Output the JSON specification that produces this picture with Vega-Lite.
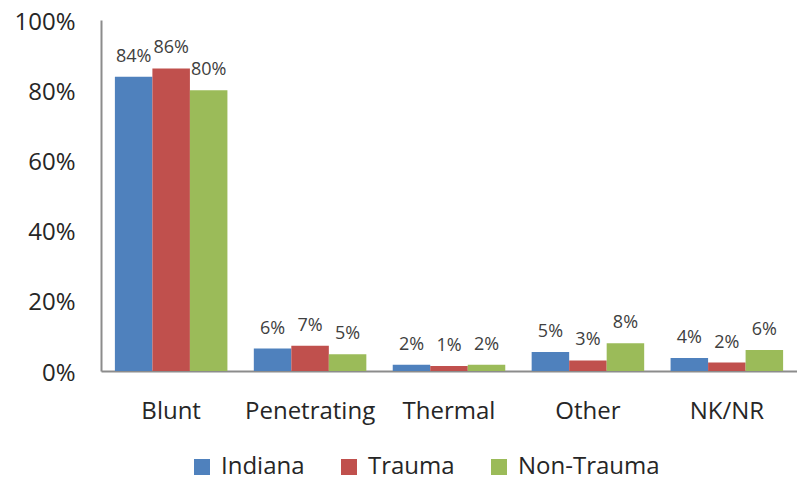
{
  "$schema": "https://vega.github.io/schema/vega-lite/v6.json",
  "width": 696,
  "height": 351,
  "autosize": {"type": "none"},
  "padding": {"left": 101, "top": 20, "right": 0, "bottom": 114},
  "background": "white",
  "config": {
    "view": {"stroke": null},
    "font": "Open Sans",
    "axis": {"grid": false, "ticks": false, "domainColor": "#8c8c8c", "domainWidth": 2, "labelColor": "#262626", "labelFont": "Open Sans", "labelFontSize": 24, "title": null}
  },
  "data": {
    "values": [
      {"cause": "Blunt", "group": "Indiana", "value": 0.838},
      {"cause": "Blunt", "group": "Trauma", "value": 0.862},
      {"cause": "Blunt", "group": "Non-Trauma", "value": 0.80},
      {"cause": "Penetrating", "group": "Indiana", "value": 0.064},
      {"cause": "Penetrating", "group": "Trauma", "value": 0.072},
      {"cause": "Penetrating", "group": "Non-Trauma", "value": 0.048},
      {"cause": "Thermal", "group": "Indiana", "value": 0.018},
      {"cause": "Thermal", "group": "Trauma", "value": 0.014},
      {"cause": "Thermal", "group": "Non-Trauma", "value": 0.018},
      {"cause": "Other", "group": "Indiana", "value": 0.054},
      {"cause": "Other", "group": "Trauma", "value": 0.03},
      {"cause": "Other", "group": "Non-Trauma", "value": 0.079},
      {"cause": "NK/NR", "group": "Indiana", "value": 0.037},
      {"cause": "NK/NR", "group": "Trauma", "value": 0.024},
      {"cause": "NK/NR", "group": "Non-Trauma", "value": 0.06}
    ]
  },
  "encoding": {
    "x": {
      "field": "cause", "type": "nominal", "sort": null,
      "scale": {"paddingInner": 0.19, "paddingOuter": 0.1},
      "axis": {"labelAngle": 0, "labelPadding": 28}
    },
    "xOffset": {"field": "group", "type": "nominal", "sort": ["Indiana", "Trauma", "Non-Trauma"], "scale": {"paddingInner": 0, "paddingOuter": 0}},
    "y": {
      "field": "value", "type": "quantitative",
      "scale": {"domain": [0, 1], "nice": false},
      "axis": {"format": ".0%", "values": [0, 0.2, 0.4, 0.6, 0.8, 1], "labelPadding": 26, "labelOffset": 2}
    }
  },
  "layer": [
    {
      "mark": {"type": "bar"},
      "encoding": {
        "color": {
          "field": "group", "type": "nominal",
          "sort": ["Indiana", "Trauma", "Non-Trauma"],
          "scale": {"domain": ["Indiana", "Trauma", "Non-Trauma"], "range": ["#4f81bd", "#c0504d", "#9bbb59"]},
          "legend": {
            "orient": "none", "direction": "horizontal", "title": null,
            "legendX": 89, "legendY": 435,
            "symbolType": "square", "symbolSize": 256, "symbolStrokeWidth": 0,
            "labelFont": "Open Sans", "labelFontSize": 24, "labelColor": "#262626", "labelOffset": 7, "columnPadding": 32
          }
        }
      }
    },
    {
      "mark": {"type": "text", "baseline": "alphabetic", "dy": -15, "fontSize": 18, "color": "#404040"},
      "encoding": {
        "text": {"field": "value", "type": "quantitative", "format": ".0%"}
      }
    }
  ]
}
